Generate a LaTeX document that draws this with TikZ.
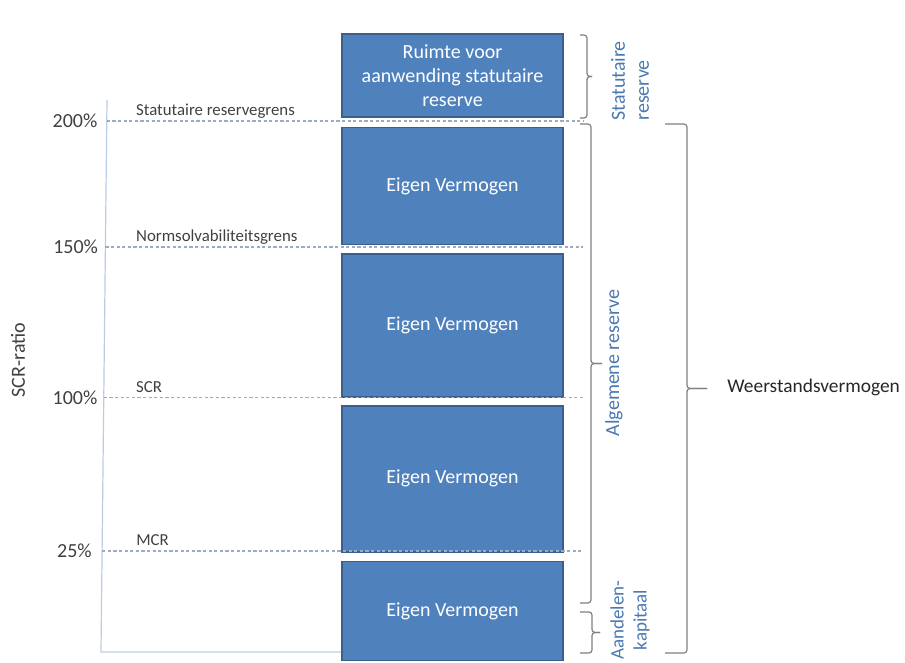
\documentclass[tikz,border=0pt]{standalone}
\usepackage{fontspec}
\setmainfont{Carlito}
\usepackage{tikz}
\usetikzlibrary{positioning,calc}

\definecolor{vermogen}{HTML}{4F81BD}
\definecolor{vermogenrand}{HTML}{3A5F8C}
\definecolor{grensblauw}{HTML}{9AABC2}
\definecolor{asblauw}{HTML}{B9CDE5}
\definecolor{accoladegrijs}{HTML}{7F7F7F}
\definecolor{reserveblauw}{HTML}{4A78B0}
\definecolor{tekstgrijs}{HTML}{404040}

\begin{document}
\begin{tikzpicture}[x=0.5pt,y=-0.5pt,
    blok/.style={draw=vermogenrand,line width=0.8pt,fill=vermogen,text=white,
      minimum width=110.5pt,inner sep=0pt,align=center,font=\fontsize{10}{12}\selectfont},
    grenslijn/.style={draw=grensblauw,line width=0.6pt,dash pattern=on 1.6pt off 1.2pt},
    grenslabel/.style={text=tekstgrijs,font=\fontsize{8.4}{10}\selectfont,inner sep=1pt,text depth=0pt},
    procent/.style={text=tekstgrijs,font=\fontsize{10}{12}\selectfont,inner sep=1pt,text depth=0pt},
    reservelabel/.style={text=reserveblauw,font=\fontsize{10}{12}\selectfont,rotate=90,inner sep=0pt},
    accolade/.style={draw=accoladegrijs,line width=0.6pt,rounded corners=1.5pt}]
    \useasboundingbox (0,0) rectangle (905,663);

    % balk met eigen vermogen
    \node [blok,minimum height=41.5pt] (ruimte) at (452.5,75.5) {Ruimte voor\\aanwending statutaire\\reserve};
    \node [blok,minimum height=58.5pt,below=4.5pt of ruimte] (ev200) {Eigen Vermogen};
    \node [blok,minimum height=71.5pt,below=4pt of ev200] (ev150) {Eigen Vermogen};
    \node [blok,minimum height=73pt,below=3.5pt of ev150] (ev100) {Eigen Vermogen};
    \node [blok,minimum height=49.5pt,below=4pt of ev100] (ev25) {Eigen Vermogen};

    % as
    \coordinate (astop) at (107,100);
    \coordinate (asbodem) at (101,652);
    \coordinate (g200) at (106.8,121);
    \coordinate (g150) at (105.4,247);
    \coordinate (g100) at (103.8,397.5);
    \coordinate (g25) at (102.1,551);
    \coordinate (rechts) at (583,0);
    \draw [draw=asblauw,line width=0.6pt] (astop) -- (asbodem) -- (asbodem -| ev25.west);
    \node [procent,rotate=90] (scrratio) at (18,360) {SCR-ratio};

    \draw [grenslijn] (g200) -- (g200 -| rechts);
    \draw [grenslijn] (g150) -- (g150 -| rechts);
    \draw [grenslijn] (g100) -- (g100 -| rechts);
    \draw [grenslijn] (g25) -- (g25 -| rechts);

    \node [procent,left=3.5pt of g200] (p200) {200\%};
    \node [procent,left=2.5pt of g150] (p150) {150\%};
    \node [procent,left=2pt of g100] (p100) {100\%};
    \node [procent,left=4pt of g25] (p25) {25\%};

    \node [grenslabel,above right=1.5pt and 13.5pt of g200] (lstatutair) {Statutaire reservegrens};
    \node [grenslabel,above right=1.5pt and 14.2pt of g150] (lnorm) {Normsolvabiliteitsgrens};
    \node [grenslabel,above right=1.5pt and 15pt of g100] (lscr) {SCR};
    \node [grenslabel,above right=1.5pt and 15.9pt of g25] (lmcr) {MCR};

    % accolades
    \coordinate (sttop) at (580,35);
    \coordinate (stbodem) at (580,118);
    \draw [accolade] (sttop) -- ++(7,0) |- ($(sttop)!.5!(stbodem)+(12,0)$);
    \draw [accolade] (stbodem) -- ++(7,0) |- ($(sttop)!.5!(stbodem)+(12,0)$);
    \node [reservelabel,align=left,anchor=west] (statutair) at (630,121) {Statutaire\\reserve};

    \coordinate (altop) at (580,124);
    \coordinate (albodem) at (580,603);
    \draw [accolade] (altop) -- ++(11,0) |- ($(altop)!.5!(albodem)+(22,0)$);
    \draw [accolade] (albodem) -- ++(11,0) |- ($(altop)!.5!(albodem)+(22,0)$);
    \node [reservelabel] (algemeen) at (614,363) {Algemene reserve};

    \coordinate (aktop) at (580,612);
    \coordinate (akbodem) at (580,653);
    \draw [accolade] (aktop) -- ++(12,0) |- ($(aktop)!.5!(akbodem)+(20,0)$);
    \draw [accolade] (akbodem) -- ++(12,0) |- ($(aktop)!.5!(akbodem)+(20,0)$);
    \node [reservelabel,font=\fontsize{9.5}{11.5}\selectfont,align=center,anchor=west] (aandelen) at (630,660) {Aandelen-\\kapitaal};

    \coordinate (wvtop) at (665,124);
    \coordinate (wvbodem) at (665,653);
    \draw [accolade] (wvtop) -- ++(22,0) |- ($(wvtop)!.5!(wvbodem)+(42,0)$);
    \draw [accolade] (wvbodem) -- ++(22,0) |- ($(wvtop)!.5!(wvbodem)+(42,0)$);
    \node [text=black!85,font=\fontsize{9.7}{12}\selectfont,inner sep=1pt,anchor=west] (weerstand) at (725,387) {Weerstandsvermogen};
\end{tikzpicture}
\end{document}
